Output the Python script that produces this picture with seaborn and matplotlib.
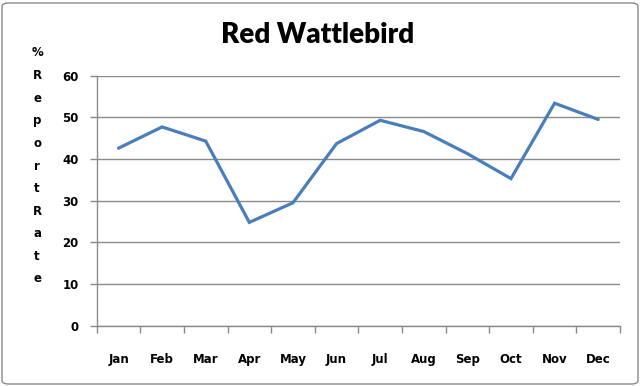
import matplotlib
matplotlib.use("Agg")
import matplotlib.pyplot as plt
import seaborn as sns
import pandas as pd
from matplotlib.patches import FancyBboxPatch
from matplotlib.ticker import FixedLocator

months = ["Jan", "Feb", "Mar", "Apr", "May", "Jun", "Jul", "Aug", "Sep", "Oct", "Nov", "Dec"]
report_rate = [42.6, 47.7, 44.3, 24.8, 29.5, 43.7, 49.3, 46.6, 41.3, 35.3, 53.4, 49.5]
y_ticks = [0, 10, 20, 30, 40, 50, 60]
title = "Red Wattlebird"
ylabel = "%ReportRate"

sns.set_theme(style="white")
plt.rcParams['font.family'] = ['DejaVu Sans']
plt.rcParams['text.color'] = 'black'
plt.rcParams['xtick.color'] = 'black'
plt.rcParams['ytick.color'] = 'black'

df = pd.DataFrame({"Month": months, "Rate": report_rate})

fig = plt.figure(figsize=(6.42, 3.86), dpi=100)
ax = fig.add_axes([96.7/642, 1-325.7/386, (620-96.7)/642, (325.7-75.7)/386])

sns.lineplot(data=df, x="Month", y="Rate", ax=ax, color="#4A7EBB", linewidth=2.3,
             sort=False, solid_capstyle="round", solid_joinstyle="miter")

ax.set_xlim(-0.5, len(months) - 0.5)
ax.set_ylim(0, 60)
ax.set_yticks(y_ticks)
ax.set_yticklabels([str(v) for v in y_ticks], fontsize=8.5, fontweight="bold", color="black")
ax.yaxis.grid(True, color="#8a8a8a", linewidth=1)
ax.set_axisbelow(True)

ax.xaxis.set_major_locator(FixedLocator([i - 0.5 for i in range(len(months) + 1)]))
ax.xaxis.set_minor_locator(FixedLocator(list(range(len(months)))))
ax.set_xticklabels([], minor=False)
ax.set_xticklabels(months, minor=True, fontsize=8.5, fontweight="bold", color="black")
ax.tick_params(axis="x", which="major", length=5, width=1, color="#8a8a8a", direction="out", bottom=True)
ax.tick_params(axis="x", which="minor", length=0, pad=20, bottom=True)
ax.tick_params(axis="y", which="major", length=5, width=1, color="#8a8a8a", direction="out", left=True, pad=8)
ax.set_xlabel("")
ax.set_ylabel("")

for s in ["top", "right"]:
    ax.spines[s].set_visible(False)
for s in ["left", "bottom"]:
    ax.spines[s].set_color("#8a8a8a")
    ax.spines[s].set_linewidth(1)

fig.text(318/642, 1-35/386, title, ha="center", va="center", fontsize=20,
         fontweight="heavy", color="black", family=["Lato", "DejaVu Sans"])

y0 = 53
for i, ch in enumerate(ylabel):
    fig.text(37/642, 1-(y0 + i*22.6)/386, ch, ha="center", va="center",
             fontsize=8.5, fontweight="bold", color="black")

border = FancyBboxPatch((2/642, 2/386), 636/642, 381/386, boxstyle="round,pad=0,rounding_size=0.01",
                        transform=fig.transFigure, fill=False, edgecolor="#8a8a8a", linewidth=1)
fig.patches.append(border)

fig.savefig("out.png", dpi=100)
